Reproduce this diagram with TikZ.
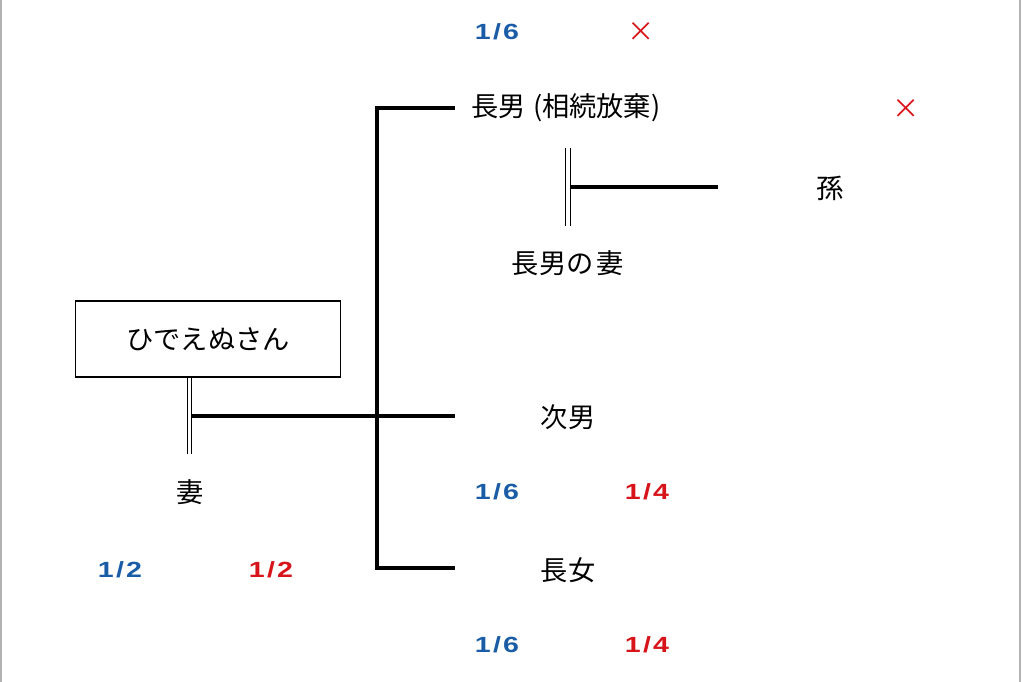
\documentclass[tikz,border=0pt]{standalone}
\usepackage{fontspec}
\usetikzlibrary{positioning}
\newfontfamily\jpfont{Noto Sans CJK JP}
\newfontfamily\fracfont[FakeStretch=1.3,LetterSpace=10]{Liberation Sans}
\definecolor{shareA}{HTML}{1A5DA6}
\definecolor{shareB}{HTML}{D7141A}

\begin{document}
\begin{tikzpicture}[x=0.02cm, y=-0.02cm,
    person/.style={font=\jpfont\fontsize{15.5}{18}\selectfont, inner sep=0pt},
    dec/.style={person, draw, line width=0.8pt, minimum width=5.3cm, minimum height=1.52cm},
    frac/.style={font=\fracfont\bfseries\fontsize{12.5}{14}\selectfont, inner sep=0pt},
    fa/.style={frac, text=shareA},
    fb/.style={frac, text=shareB},
    nope/.style={person, text=shareB},
    ln/.style={line width=1.9pt},
    mar/.style={line width=0.7pt, double, double distance=1.8pt}]
  \useasboundingbox (0,0) rectangle (1024,682);
  % screen edges
  \draw[gray!60, line width=1pt] (1,0) -- (1,682) (1020,0) -- (1020,682);
  % people
  \node[dec] (hide) at (208,339) {ひでえぬさん};
  \node[person] (tsuma) at (190,492) {妻};
  \node[person] (chonan) at (566,108) {長男\hspace{4pt}(相続放棄)};
  \node[person] (yome) at (568,263) {長男の\hspace{2pt}妻};
  \node[person] (mago) at (830,188) {孫};
  \node[person] (jinan) at (568,417) {次男};
  \node[person] (chojo) at (568,570) {長女};
  % shares
  \node[fa] (s0a) at (120,570) {1/2};
  \node[fb] (s0b) at (271,570) {1/2};
  \node[fa] (s1a) at (497,32) {1/6};
  \node[nope] (s1b) at (641,32) {×};
  \node[nope] (s1c) at (906,109) {×};
  \node[fa] (s2a) at (497,492) {1/6};
  \node[fb] (s2b) at (647,492) {1/4};
  \node[fa] (s3a) at (497,645) {1/6};
  \node[fb] (s3b) at (647,645) {1/4};
  % couple and children lines
  \coordinate (w) at (189.5,454);
  \coordinate (m) at (192,416);
  \coordinate (t1) at (377,108);
  \coordinate (t3) at (377,568);
  \coordinate (e1) at (455,108);
  \coordinate (e2) at (455,416);
  \coordinate (e3) at (455,568);
  \draw[mar] (hide.south -| w) -- (w);
  \draw[ln] (m) -- (e2);
  \draw[ln] (e1) -- (t1) -- (t3) -- (e3);
  % eldest son and his wife
  \coordinate (y1) at (568,148);
  \coordinate (y2) at (568,226);
  \coordinate (yk) at (570,187);
  \coordinate (g) at (718,187);
  \draw[mar] (y1) -- (y2);
  \draw[ln] (yk) -- (g);
\end{tikzpicture}
\end{document}
